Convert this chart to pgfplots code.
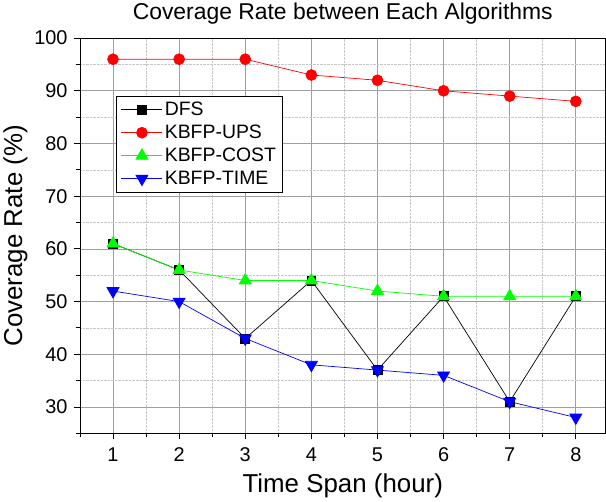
\documentclass[border=0pt]{standalone}
\usepackage{pgfplots}
\pgfplotsset{compat=1.18}
\usepackage{fontspec}
\setmainfont{Liberation Sans}

\begin{document}
\begin{tikzpicture}
\begin{axis}[
    scale only axis,
    width=528pt, height=397pt,
    xmin=0.5, xmax=8.45,
    ymin=25, ymax=100,
    xtick={1,2,...,8},
    ytick={30,40,...,100},
    minor xtick={0.5,1.5,...,8.5},
    minor ytick={25,35,...,95},
    grid=both,
    major grid style={gray!75, line width=0.7pt},
    minor grid style={gray!45, densely dotted, line width=0.6pt},
    axis line style={black, line width=0.9pt},
    tick align=outside, tick pos=left,
    major tick length=6pt, minor tick length=4pt,
    every tick/.style={black, line width=0.9pt},
    /pgf/number format/assume math mode=true,
    ticklabel style={font=\fontsize{20}{24}\selectfont},
    xticklabel style={yshift=-5pt},
    yticklabel style={xshift=-3pt},
    title={Coverage Rate between Each Algorithms},
    title style={font=\fontsize{23}{27}\selectfont, yshift=4pt},
    xlabel={Time Span (hour)},
    ylabel={Coverage Rate (\%)},
    label style={font=\fontsize{26}{30}\selectfont},
    xlabel style={yshift=-5pt},
    legend style={at={(rel axis cs:0.068,0.854)}, anchor=north west,
        font=\fontsize{19.5}{23}\selectfont, draw=black, line width=0.8pt,
        inner xsep=5pt, inner ysep=4pt, row sep=4pt},
    legend cell align=left,
    legend image code/.code={
        \draw[#1, line width=0.7pt] (0cm,0cm) -- (1.45cm,0cm);
        \draw[#1, line width=0.7pt] plot coordinates {(0.725cm,0cm)};
    },
]
\addplot[black, line width=0.7pt, mark=square*, mark size=4.5pt, mark options={solid}]
    coordinates {(1,61)(2,56)(3,43)(4,54)(5,37)(6,51)(7,31)(8,51)};
\addlegendentry{DFS}
\addplot[red, line width=0.7pt, mark=*, mark size=5.5pt]
    coordinates {(1,96)(2,96)(3,96)(4,93)(5,92)(6,90)(7,89)(8,88)};
\addlegendentry{KBFP-UPS}
\addplot[green, line width=0.7pt, mark=triangle*, mark size=7pt]
    coordinates {(1,61)(2,56)(3,54)(4,54)(5,52)(6,51)(7,51)(8,51)};
\addlegendentry{KBFP-COST}
\addplot[blue, line width=0.7pt, mark=triangle*, mark size=7pt, mark options={rotate=180}]
    coordinates {(1,52)(2,50)(3,43)(4,38)(5,37)(6,36)(7,31)(8,28)};
\addlegendentry{KBFP-TIME}
\end{axis}
\end{tikzpicture}
\end{document}
